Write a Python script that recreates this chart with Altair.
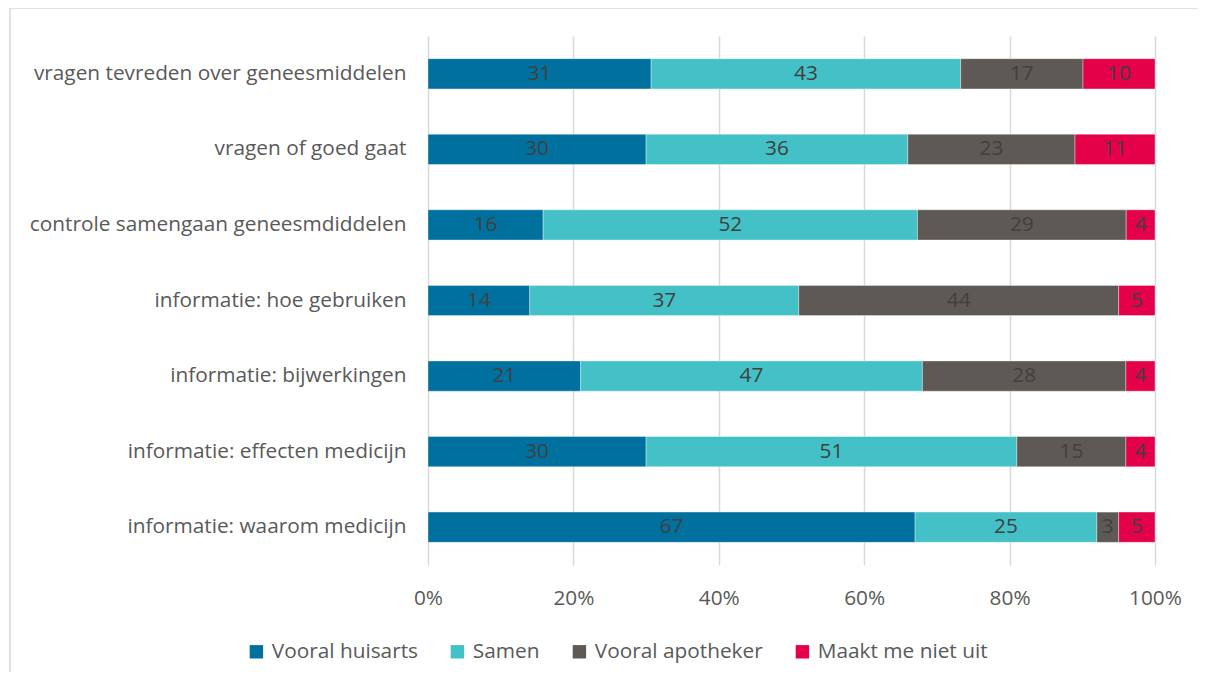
import altair as alt
import pandas as pd

categories = [
    "vragen tevreden over geneesmiddelen",
    "vragen of goed gaat",
    "controle samengaan geneesmdiddelen",
    "informatie: hoe gebruiken",
    "informatie: bijwerkingen",
    "informatie: effecten medicijn",
    "informatie: waarom medicijn",
]
series = ["Vooral huisarts", "Samen", "Vooral apotheker", "Maakt me niet uit"]
huisarts = [31, 30, 16, 14, 21, 30, 67]
samen = [43, 36, 52, 37, 47, 51, 25]
apotheker = [17, 23, 29, 44, 28, 15, 3]
maakt_niet_uit = [10, 11, 4, 5, 4, 4, 5]
colors = ["#00719F", "#43C1C6", "#5E5955", "#E5004A"]
x_ticks = [0, 0.2, 0.4, 0.6, 0.8, 1.0]

rows = []
for si, (name, vals) in enumerate(zip(series, [huisarts, samen, apotheker, maakt_niet_uit])):
    for c, v in zip(categories, vals):
        rows.append({"cat": c, "serie": name, "order": si, "value": v})
df = pd.DataFrame(rows)

FONT = "Open Sans"
FS = 20.8

base = alt.Chart(df).transform_joinaggregate(
    total="sum(value)", groupby=["cat"]
).transform_window(
    cum="sum(value)", groupby=["cat"], sort=[alt.SortField("order")],
    frame=[None, 0]
).transform_calculate(
    start="(datum.cum - datum.value) / datum.total",
    end="datum.cum / datum.total",
    mid="(datum.cum - datum.value / 2) / datum.total",
)

y_enc = alt.Y("cat:N", sort=categories, title=None,
              scale=alt.Scale(paddingInner=0.6, paddingOuter=0.3),
              axis=alt.Axis(labelFont=FONT, labelFontSize=FS, labelColor="#595959",
                            labelPadding=22, ticks=False, domain=False, labelLimit=500))

bars = base.mark_bar(stroke="white", strokeWidth=0.6, strokeOpacity=0.6).encode(
    x=alt.X("start:Q", title=None,
            scale=alt.Scale(domain=[0, 1], nice=False),
            axis=alt.Axis(values=x_ticks, format=".0%", labelFont=FONT, labelFontSize=FS,
                          labelColor="#595959", labelPadding=23, ticks=False, domain=False,
                          labelFlush=False,
                          grid=True, gridColor="#D9D9D9", gridWidth=1.5)),
    x2="end:Q",
    y=y_enc,
    color=alt.Color("serie:N", sort=series,
                    scale=alt.Scale(domain=series, range=colors),
                    legend=alt.Legend(title=None, orient="none", direction="horizontal",
                                      legendX=-182, legendY=605,
                                      symbolType="square", symbolSize=180,
                                      symbolStrokeWidth=0, labelFont=FONT,
                                      labelFontSize=FS, labelColor="#595959",
                                      labelOffset=5, columnPadding=29,
                                      labelLimit=400)),
)

labels = base.mark_text(font=FONT, fontSize=FS, color="#404040").encode(
    x="mid:Q",
    y=alt.Y("cat:N", sort=categories),
    text=alt.Text("value:Q"),
)

frame = alt.Chart(pd.DataFrame({"k": [0]})).mark_rect(
    fill=None, stroke="#D9D9D9", strokeWidth=1.5
).encode(
    x=alt.value(-418), x2=alt.value(900), y=alt.value(-28), y2=alt.value(700)
)

chart = alt.layer(frame, bars, labels).properties(
    width=727, height=529,
    padding={"left": 420, "top": 28, "right": 43, "bottom": 107},
    autosize=alt.AutoSizeParams(type="none"),
).configure_view(stroke=None)

chart.save("out.html", embed_options={"renderer": "svg", "actions": False})
